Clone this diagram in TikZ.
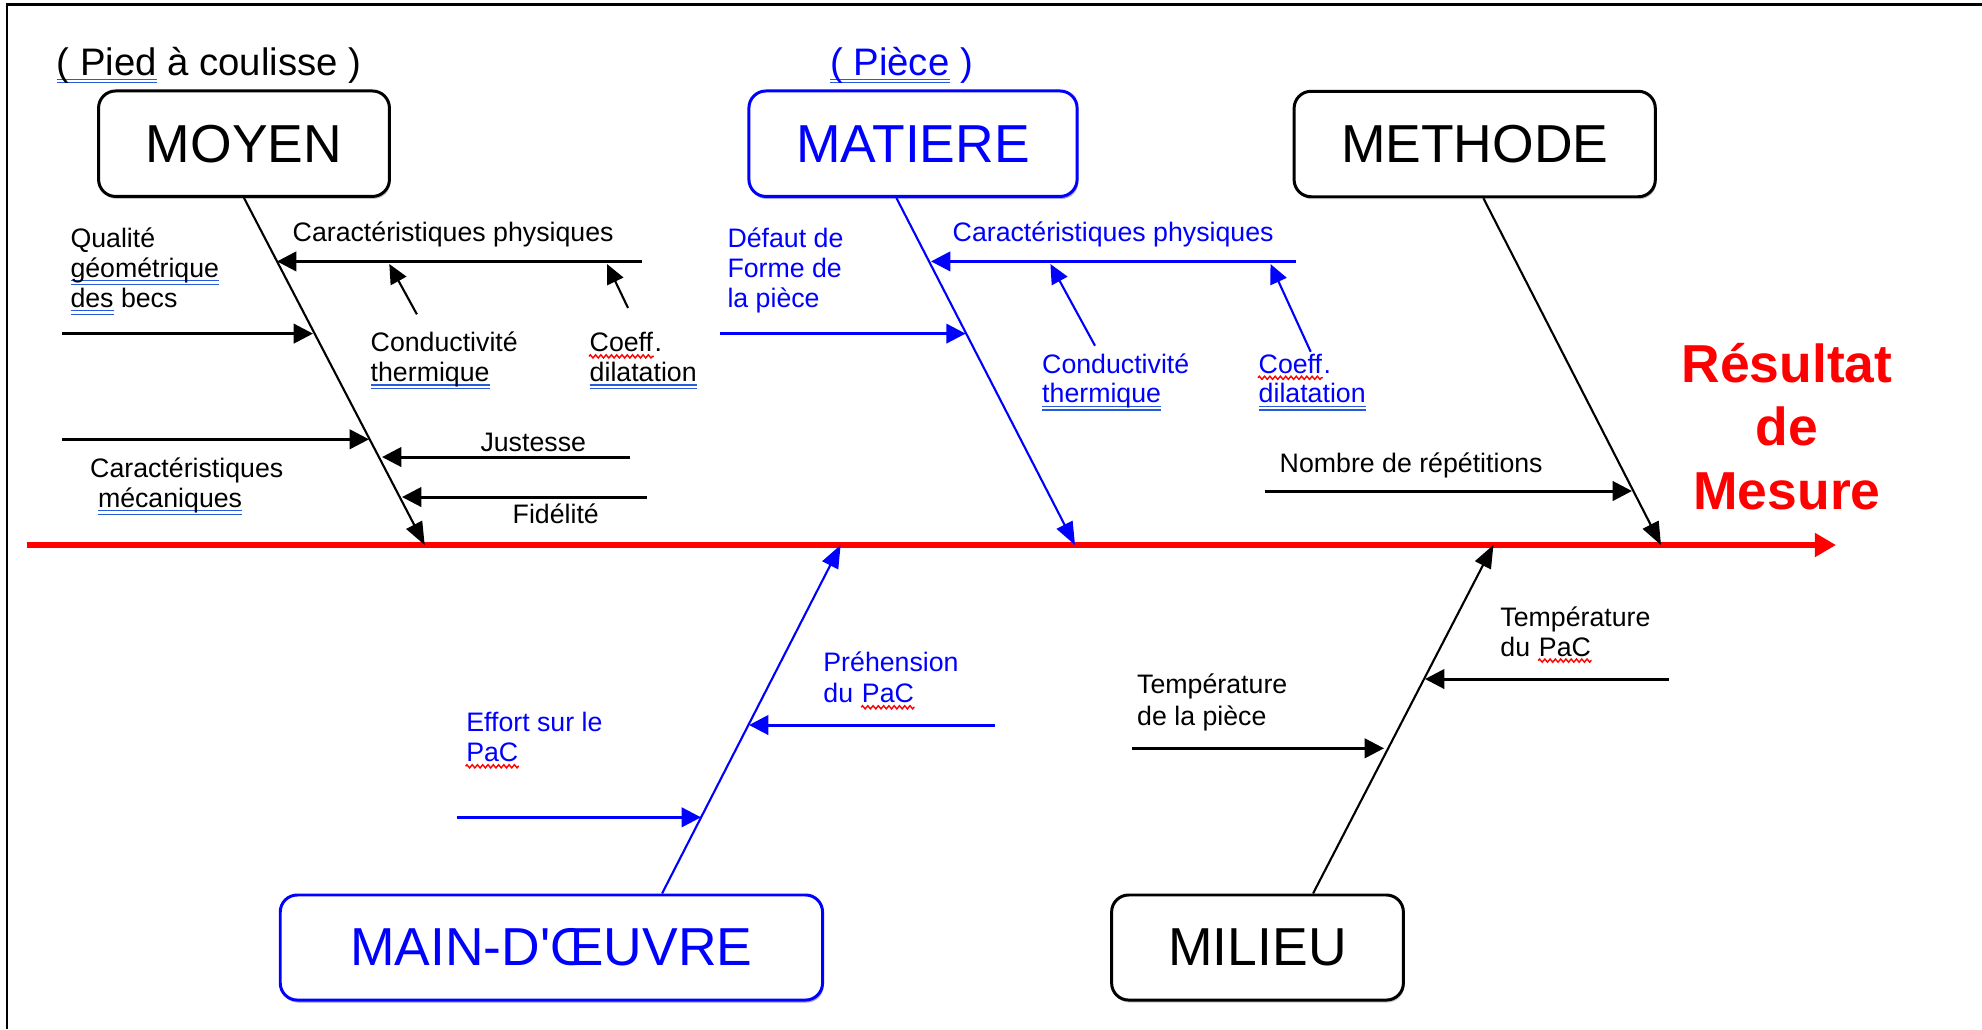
\documentclass[tikz,border=0pt]{standalone}
\usepackage{fontspec}
\setmainfont{Liberation Sans}
\usetikzlibrary{arrows.meta,shadows,decorations.pathmorphing}
\definecolor{ulblue}{RGB}{40,90,220}
\definecolor{pblue}{RGB}{0,0,255}
\definecolor{pred}{RGB}{255,0,0}
\newsavebox\ulbox
\newcommand\dul[1]{\sbox\ulbox{#1}\rlap{\color{ulblue}\rule[-1.2pt]{\wd\ulbox}{0.35pt}}\rlap{\color{ulblue}\rule[-2.2pt]{\wd\ulbox}{0.35pt}}\usebox\ulbox}
\tikzset{
  catbox/.style={draw, rounded corners=0.17cm, line width=0.85pt, fill=white, inner sep=0pt,
    minimum height=1.054cm, font=\fontsize{15.2}{18}\selectfont,
    drop shadow={shadow xshift=0.3pt, shadow yshift=-0.7pt, fill=gray!45, opacity=1}},
  bluebox/.style={catbox, draw=pblue, text=pblue,
    drop shadow={shadow xshift=0.3pt, shadow yshift=-0.7pt, fill=pblue!35, opacity=1}},
  lbl/.style={inner sep=0pt, anchor=base west, font=\fontsize{7.6}{9}\selectfont},
  note/.style={inner sep=0pt, anchor=base west, font=\fontsize{10.9}{13}\selectfont},
  resnode/.style={inner sep=0pt, anchor=base, text=pred, font=\fontsize{15.2}{18}\selectfont\bfseries},
  bone/.style={line width=0.6pt, -{Triangle[length=6.5pt,width=5pt]}},
  branch/.style={line width=0.85pt, -{Triangle[length=5.5pt,width=5.5pt]}},
  sub/.style={line width=0.6pt, -{Triangle[length=5.5pt,width=5pt]}},
  spine/.style={line width=1.6pt, draw=pred, -{Triangle[length=6pt,width=6.5pt]}},
  frameline/.style={line width=0.8pt},
  wavy/.style={draw=pred, line width=0.4pt, decorate, decoration={zigzag, amplitude=0.45pt, segment length=1.5pt}}
}
\newcommand\wavunder[1]{\draw[wavy] ([yshift=-1.3pt]#1.base west) -- ([yshift=-1.3pt]#1.base east);}
\begin{document}
\begin{tikzpicture}[x=0.01cm,y=-0.01cm]
\useasboundingbox (0,0) rectangle (1982,1029);
% frame
\coordinate (fTL) at (7,4.7);
\coordinate (fTR) at (1982,4.7);
\coordinate (fBL) at (7,1029);
\draw[frameline] (fTR) -- (fTL) -- (fBL);

% spine
\coordinate (sp0) at (26.7,545);
\coordinate (sp1) at (1836,545);
\draw[spine] (sp0) -- (sp1);

% category boxes
\node[catbox, minimum width=2.907cm] (moyen) at (244,143.7) {MOYEN};
\node[bluebox, minimum width=3.28cm] (matiere) at (913,143.7) {MATIERE};
\node[catbox, minimum width=3.61cm] (methode) at (1474.7,144) {METHODE};
\node[bluebox, minimum width=5.42cm, minimum height=1.05cm] (main) at (551.4,947.5) {MAIN-D\textquotesingle ŒUVRE};
\node[catbox, minimum width=2.916cm, minimum height=1.05cm] (milieu) at (1257.5,947.5) {MILIEU};

% headings
\node[note] (pied) at (56,75.7) {\dul{( Pied} à coulisse )};
\node[note, text=pblue] (piece) at (829.5,75.7) {\dul{( Pièce} )};

% result
\node[resnode] (res1) at (1787,382.7) {Résultat};
\node[resnode] (res2) at (1787,445.8) {de};
\node[resnode] (res3) at (1787,509) {Mesure};

% bones
\coordinate (bMoy) at (424.7,545);
\coordinate (bMat) at (1075,545);
\coordinate (bMet) at (1661,545);
\coordinate (bMain) at (840.6,545);
\coordinate (bMil) at (1493.4,545);
\draw[bone] (moyen.south) -- (bMoy);
\draw[bone, draw=pblue, fill=pblue] ([xshift=-0.166cm]matiere.south) -- (bMat);
\draw[bone] ([xshift=0.087cm]methode.south) -- (bMet);
\draw[bone, draw=pblue, fill=pblue] ([xshift=1.106cm]main.north) -- (bMain);
\draw[bone] ([xshift=0.555cm]milieu.north) -- (bMil);

% ---- MOYEN branches
\node[lbl] (m_cp) at (292,241) {Caractéristiques physiques};
\coordinate (m_cpA) at (641.9,261.4);
\coordinate (m_cpB) at (277,261.4);
\draw[branch] (m_cpA) -- (m_cpB);
\node[lbl] (m_tc1) at (370,351.8) {Conductivité};
\node[lbl] (m_tc2) at (370,381.4) {\dul{thermique}};
\coordinate (m_tcA) at (416.9,314.3);
\coordinate (m_tcB) at (389.3,264);
\draw[sub] (m_tcA) -- (m_tcB);
\node[lbl] (m_co1) at (589,351.8) {Coeff};
\node[lbl] (m_co1p) at (m_co1.base east) {.};
\wavunder{m_co1}
\node[lbl] (m_co2) at (589,381.4) {\dul{dilatation}};
\coordinate (m_coA) at (628,307.9);
\coordinate (m_coB) at (607,264);
\draw[sub] (m_coA) -- (m_coB);
\node[lbl] (m_q1) at (69.8,247) {Qualité};
\node[lbl] (m_q2) at (69.8,277) {\dul{géométrique}};
\node[lbl] (m_q3) at (69.8,307) {\dul{des} becs};
\coordinate (m_qA) at (62,333.6);
\coordinate (m_qB) at (313,333.6);
\draw[branch] (m_qA) -- (m_qB);
\coordinate (m_mA) at (62,439.3);
\coordinate (m_mB) at (369,439.3);
\draw[branch] (m_mA) -- (m_mB);
\node[lbl] (m_m1) at (89.5,477.9) {Caractéristiques};
\node[lbl] (m_m2) at (97.3,507) {\dul{mécaniques}};
\node[lbl] (m_j) at (479.8,451.8) {Justesse};
\coordinate (m_jA) at (630.4,457);
\coordinate (m_jB) at (382,457);
\draw[branch] (m_jA) -- (m_jB);
\coordinate (m_fA) at (647.4,497);
\coordinate (m_fB) at (402,497);
\draw[branch] (m_fA) -- (m_fB);
\node[lbl] (m_f) at (512,523) {Fidélité};

% ---- MATIERE branches (blue)
\node[lbl, text=pblue] (t_d1) at (726.8,247) {Défaut de};
\node[lbl, text=pblue] (t_d2) at (726.8,277) {Forme de};
\node[lbl, text=pblue] (t_d3) at (726.8,307) {la pièce};
\coordinate (t_dA) at (720,333.6);
\coordinate (t_dB) at (965.6,333.6);
\draw[branch, draw=pblue, fill=pblue] (t_dA) -- (t_dB);
\node[lbl, text=pblue] (t_cp) at (952,241) {Caractéristiques physiques};
\coordinate (t_cpA) at (1296,261.4);
\coordinate (t_cpB) at (931,261.4);
\draw[branch, draw=pblue, fill=pblue] (t_cpA) -- (t_cpB);
\node[lbl, text=pblue] (t_tc1) at (1041.5,373.2) {Conductivité};
\node[lbl, text=pblue] (t_tc2) at (1041.5,402.9) {\dul{thermique}};
\coordinate (t_tcA) at (1095,345.7);
\coordinate (t_tcB) at (1050.4,264);
\draw[sub, draw=pblue, fill=pblue] (t_tcA) -- (t_tcB);
\node[lbl, text=pblue] (t_co1) at (1258,373.2) {Coeff};
\node[lbl, text=pblue] (t_co1p) at (t_co1.base east) {.};
\wavunder{t_co1}
\node[lbl, text=pblue] (t_co2) at (1258,402.9) {\dul{dilatation}};
\coordinate (t_coA) at (1310.7,351.8);
\coordinate (t_coB) at (1270.5,264);
\draw[sub, draw=pblue, fill=pblue] (t_coA) -- (t_coB);

% ---- METHODE branch
\node[lbl] (h_n) at (1279,472.6) {Nombre de répétitions};
\coordinate (h_nA) at (1265,491);
\coordinate (h_nB) at (1632,491);
\draw[branch] (h_nA) -- (h_nB);

% ---- MAIN-D'OEUVRE branches (blue)
\node[lbl, text=pblue] (w_p1) at (822.7,671.7) {Préhension};
\node[lbl, text=pblue] (w_p2) at (822.7,702.7) {du};
\node[lbl, text=pblue, xshift=2.1pt] (w_p2b) at (w_p2.base east) {PaC};
\wavunder{w_p2b}
\coordinate (w_pA) at (995,725);
\coordinate (w_pB) at (749,725);
\draw[branch, draw=pblue, fill=pblue] (w_pA) -- (w_pB);
\node[lbl, text=pblue] (w_e1) at (465.6,731.7) {Effort sur le};
\node[lbl, text=pblue] (w_e2) at (465.6,761.7) {PaC};
\wavunder{w_e2}
\coordinate (w_eA) at (456.6,817.3);
\coordinate (w_eB) at (701,817.3);
\draw[branch, draw=pblue, fill=pblue] (w_eA) -- (w_eB);

% ---- MILIEU branches
\node[lbl] (l_t1) at (1499.7,626) {Température};
\node[lbl] (l_t2) at (1499.7,656) {du};
\node[lbl, xshift=2.1pt] (l_t2b) at (l_t2.base east) {PaC};
\wavunder{l_t2b}
\coordinate (l_tA) at (1668.8,679);
\coordinate (l_tB) at (1425,679);
\draw[branch] (l_tA) -- (l_tB);
\node[lbl] (l_p1) at (1136.5,693.3) {Température};
\node[lbl] (l_p2) at (1136.5,725) {de la pièce};
\coordinate (l_pA) at (1131.5,748.3);
\coordinate (l_pB) at (1384,748.3);
\draw[branch] (l_pA) -- (l_pB);
\end{tikzpicture}
\end{document}
